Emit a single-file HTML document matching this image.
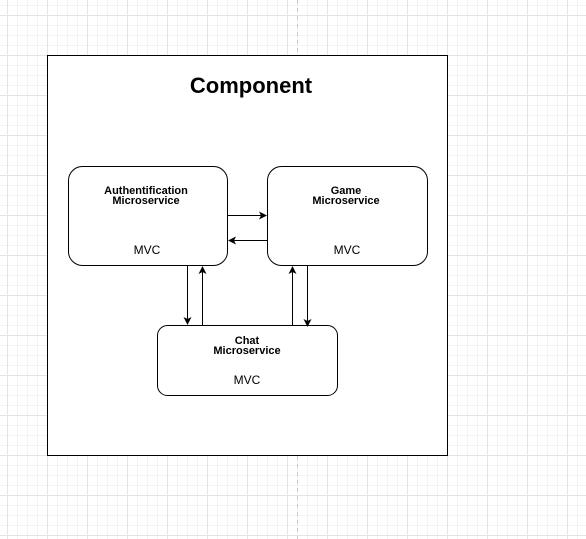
<!DOCTYPE html><html><head><style>
body{margin:0;width:586px;height:539px;overflow:hidden;font-family:"Liberation Sans",sans-serif;
background-color:#fff;
background-image:linear-gradient(#e4e4e4 1px,transparent 1px),linear-gradient(90deg,#e4e4e4 1px,transparent 1px),linear-gradient(#f3f3f3 1px,transparent 1px),linear-gradient(90deg,#f3f3f3 1px,transparent 1px);
background-size:40px 40px,40px 40px,10px 10px,10px 10px;background-position:7px 15px,7px 15px,7px 5px,7px 5px;}
</style></head><body>
<svg width="586" height="539" style="position:absolute;left:0;top:0" font-family="Liberation Sans, sans-serif">
<defs><marker id="a" markerWidth="8" markerHeight="8" refX="7" refY="4" orient="auto" markerUnits="userSpaceOnUse"><path d="M0,0 L8,4 L0,8 L2,4 z" fill="#000"/></marker></defs>
<line x1="297.5" y1="0" x2="297.5" y2="539" stroke="#ccc" stroke-dasharray="4,4"/>
<rect x="47.5" y="55.5" width="400" height="400" fill="#fff" stroke="#000"/>
<text x="251" y="93" text-anchor="middle" font-size="22" font-weight="bold">Component</text>
<rect x="68.5" y="166.5" width="159" height="99" rx="14" fill="#fff" stroke="#000"/>
<rect x="267.5" y="166.5" width="160" height="99" rx="14" fill="#fff" stroke="#000"/>
<rect x="157.5" y="325.5" width="180" height="70" rx="10" fill="#fff" stroke="#000"/>
<g font-size="11" font-weight="bold" text-anchor="middle">
<text x="146" y="194">Authentification</text><text x="146" y="204">Microservice</text>
<text x="346" y="194">Game</text><text x="346" y="204">Microservice</text>
<text x="247" y="344">Chat</text><text x="247" y="354">Microservice</text></g>
<g font-size="12" text-anchor="middle"><text x="147" y="254">MVC</text><text x="347" y="254">MVC</text><text x="247" y="384">MVC</text></g>
<g stroke="#000" stroke-width="1">
<line x1="228" y1="215.5" x2="266" y2="215.5" marker-end="url(#a)"/>
<line x1="267" y1="240.5" x2="229" y2="240.5" marker-end="url(#a)"/>
<line x1="187.5" y1="266" x2="187.5" y2="324" marker-end="url(#a)"/>
<line x1="202.5" y1="325" x2="202.5" y2="267" marker-end="url(#a)"/>
<line x1="292.5" y1="325" x2="292.5" y2="267" marker-end="url(#a)"/>
<line x1="307.5" y1="266" x2="307.5" y2="326" marker-end="url(#a)"/>
</g></svg></body></html>
